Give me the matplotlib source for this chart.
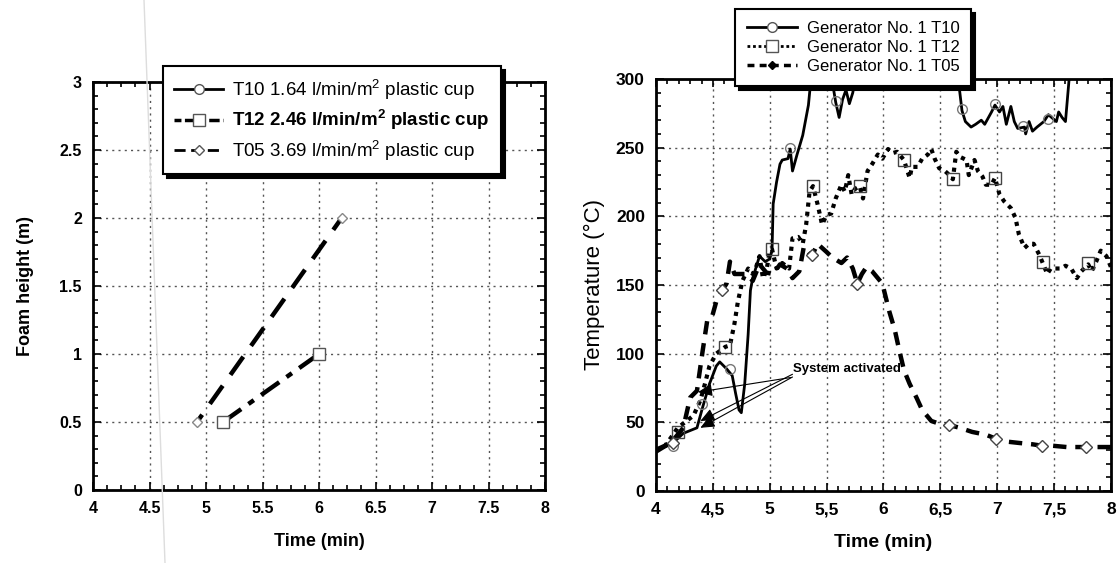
import matplotlib
matplotlib.use("Agg")
import matplotlib.pyplot as plt
from matplotlib.lines import Line2D
from matplotlib.ticker import MultipleLocator, FuncFormatter

plt.rcParams['font.family'] = ['Liberation Sans', 'DejaVu Sans']
plt.rcParams['font.weight'] = 'bold'

# ---- left chart: foam height ----
foam_t10_x = []
foam_t10_y = []
foam_t12_x = [5.15, 6.0]
foam_t12_y = [0.5, 1.0]
foam_t05_x = [4.92, 6.2]
foam_t05_y = [0.5, 2.0]
foam_labels = ["T10 1.64 l/min/m$^{\\mathregular{2}}$ plastic cup",
               "T12 2.46 l/min/m$^{\\mathregular{2}}$ plastic cup",
               "T05 3.69 l/min/m$^{\\mathregular{2}}$ plastic cup"]

# ---- right chart: temperature ----
t10_x = [4.0, 4.08, 4.15, 4.24, 4.30, 4.36, 4.41, 4.47, 4.53, 4.56, 4.62, 4.67, 4.70, 4.73,
         4.75, 4.78, 4.81, 4.83, 4.85, 4.91, 4.96, 5.0, 5.02, 5.03, 5.06, 5.09, 5.11, 5.16,
         5.18, 5.20, 5.24, 5.29, 5.34, 5.36, 5.45, 5.55, 5.58, 5.61, 5.64, 5.67, 5.70, 5.73,
         5.76, 6.2, 6.64, 6.67, 6.69, 6.72, 6.77, 6.81, 6.86, 6.89, 6.95, 6.98, 7.02, 7.05,
         7.08, 7.12, 7.15, 7.18, 7.24, 7.25, 7.28, 7.31, 7.35, 7.41, 7.45, 7.52, 7.54, 7.57,
         7.60, 7.63, 7.65]
t10_y = [28, 32, 35, 42, 44, 46, 61, 78, 91, 94, 89, 84, 71, 59,
         57, 78, 114, 146, 155, 171, 167, 169, 175, 209, 225, 238, 241, 242,
         249, 233, 245, 259, 281, 298, 320, 298, 283, 272, 285, 292, 282, 290,
         305, 330, 305, 291, 277, 269, 265, 267, 270, 267, 276, 281, 276, 280,
         267, 280, 269, 264, 265, 260, 269, 262, 265, 269, 274, 269, 276, 272,
         269, 298, 320]
t10_mx = [4.15, 4.40, 4.65, 5.18, 5.58, 6.69, 6.98, 7.23, 7.45]
t10_my = [33, 63, 89, 250, 284, 278, 282, 266, 271]

t12_x = [4.0, 4.08, 4.15, 4.19, 4.27, 4.33, 4.39, 4.43, 4.47, 4.53, 4.61, 4.65, 4.69, 4.72,
         4.76, 4.81, 4.85, 4.88, 4.91, 4.94, 4.97, 5.0, 5.02, 5.06, 5.11, 5.17, 5.20, 5.25,
         5.29, 5.32, 5.35, 5.38, 5.42, 5.46, 5.50, 5.54, 5.58, 5.63, 5.66, 5.69, 5.72, 5.75,
         5.79, 5.82, 5.86, 5.90, 5.95, 5.99, 6.04, 6.08, 6.12, 6.18, 6.21, 6.23, 6.25, 6.30,
         6.34, 6.39, 6.42, 6.45, 6.49, 6.54, 6.58, 6.61, 6.64, 6.68, 6.73, 6.75, 6.80, 6.83,
         6.87, 6.90, 6.95, 6.98, 7.02, 7.06, 7.12, 7.16, 7.19, 7.24, 7.28, 7.32, 7.37, 7.40,
         7.44, 7.47, 7.52, 7.56, 7.60, 7.65, 7.70, 7.74, 7.80, 7.83, 7.87, 7.91, 7.96, 8.0]
t12_y = [29, 33, 41, 46, 51, 55, 66, 78, 91, 100, 105, 106, 122, 138,
         153, 162, 158, 163, 171, 155, 160, 175, 176, 162, 166, 162, 184, 185,
         180, 194, 218, 222, 209, 194, 201, 202, 213, 223, 218, 230, 216, 220,
         222, 213, 233, 238, 245, 242, 249, 246, 247, 241, 233, 228, 236, 236,
         242, 245, 249, 242, 235, 233, 230, 227, 247, 243, 241, 230, 241, 233,
         229, 223, 223, 228, 216, 211, 206, 199, 187, 177, 180, 180, 172, 166,
         158, 162, 162, 162, 164, 162, 155, 160, 165, 160, 167, 175, 171, 163]
t12_mx = [4.19, 4.61, 5.02, 5.38, 5.79, 6.18, 6.61, 6.98, 7.40, 7.80]
t12_my = [43, 105, 176, 222, 222, 241, 227, 228, 167, 166]

t05_x = [4.0, 4.08, 4.15, 4.24, 4.30, 4.36, 4.41, 4.45, 4.49, 4.53, 4.58, 4.62, 4.65, 4.69,
         4.74, 4.80, 4.85, 4.91, 4.97, 5.03, 5.09, 5.15, 5.20, 5.26, 5.30, 5.37, 5.42, 5.50,
         5.55, 5.63, 5.68, 5.73, 5.77, 5.81, 5.85, 5.90, 5.99, 6.05, 6.10, 6.14, 6.18, 6.23,
         6.29, 6.34, 6.42, 6.49, 6.58, 6.67, 6.78, 6.90, 6.99, 7.08, 7.19, 7.31, 7.39, 7.48,
         7.61, 7.69, 7.78, 7.89, 8.0]
t05_y = [30, 33, 37, 46, 68, 73, 102, 124, 126, 138, 146, 151, 167, 158,
         158, 158, 153, 165, 159, 158, 165, 162, 155, 160, 178, 171, 180, 174,
         170, 166, 170, 162, 151, 158, 163, 160, 151, 131, 117, 102, 88, 78,
         68, 59, 51, 49, 48, 46, 43, 41, 38, 36, 35, 34, 33, 33,
         32, 32, 32, 32, 32]
t05_mx = [4.15, 4.58, 5.37, 5.77, 6.58, 6.99, 7.39, 7.78]
t05_my = [35, 146, 172, 151, 48, 38, 33, 32]

temp_labels = ["Generator No. 1 T10", "Generator No. 1 T12", "Generator No. 1 T05"]

# arrow targets for "System activated"
arrow_x = [4.37, 4.39, 4.39]
arrow_y = [72, 51, 46]
arrow_from_y = [89, 85, 83]

fig = plt.figure(figsize=(11.17, 5.63), dpi=100)
ax1 = fig.add_axes([0.0833, 0.1297, 0.4047, 0.7247])
ax2 = fig.add_axes([0.5873, 0.1279, 0.4073, 0.7318])


def style_axes(ax, size):
    for s in ax.spines.values():
        s.set_linewidth(2)
    ax.tick_params(which='both', direction='in', top=True, right=True, width=1.2)
    ax.tick_params(which='major', length=6, labelsize=size, pad=8)
    ax.tick_params(which='minor', length=3.5)
    ax.grid(True, which='major', linestyle=(0, (1.5, 3)), color='#555555', linewidth=1)
    ax.set_axisbelow(True)


# left chart
ax1.plot(foam_t10_x, foam_t10_y, '-', color='black', lw=2, label=foam_labels[0])
ax1.plot(foam_t12_x, foam_t12_y, color='black', lw=3.2, linestyle=(0, (5, 2, 1.5, 2)),
         label=foam_labels[1])
ax1.plot(foam_t05_x, foam_t05_y, color='black', lw=3.2, linestyle=(3, (5, 3)),
         label=foam_labels[2])
ax1.plot(foam_t12_x, foam_t12_y, 's', mfc='white', mec='#555555', ms=8, zorder=5)
ax1.plot(foam_t05_x, foam_t05_y, 'D', mfc='white', mec='#888888', ms=5, zorder=5)
ax1.set_xlim(4, 8)
ax1.set_ylim(0, 3)
ax1.xaxis.set_major_locator(MultipleLocator(0.5))
ax1.xaxis.set_minor_locator(MultipleLocator(0.125))
ax1.yaxis.set_major_locator(MultipleLocator(0.5))
ax1.yaxis.set_minor_locator(MultipleLocator(0.1))
ax1.yaxis.set_major_formatter(FuncFormatter(lambda v, p: f"{v:g}"))
ax1.xaxis.set_major_formatter(FuncFormatter(lambda v, p: f"{v:g}"))
style_axes(ax1, 11.5)
ax1.set_xlabel("Time (min)", fontsize=13, fontweight='bold', labelpad=12)
ax1.set_ylabel("Foam height (m)", fontsize=13, fontweight='bold', labelpad=18)

h = [Line2D([], [], color='black', lw=2, marker='o', mfc='white', mec='#555555', ms=7),
     Line2D([], [], color='black', lw=2.5, linestyle=(0, (2, 1, 3, 1)), marker='s',
            mfc='white', mec='#555555', ms=8),
     Line2D([], [], color='black', lw=2, linestyle=(0, (4, 2)), marker='D', mfc='white',
            mec='#555555', ms=5)]
leg1 = fig.legend(h, foam_labels, loc='upper left', bbox_to_anchor=(0.146, 0.883),
                  borderaxespad=0, prop={'size': 13.5, 'weight': 'normal'},
                  handlelength=2.6, borderpad=0.6, labelspacing=0.3, handletextpad=0.5,
                  fancybox=False, framealpha=1, edgecolor='black',
                  shadow={'color': 'black', 'alpha': 1, 'ox': 3, 'oy': -3})
leg1.get_frame().set_linewidth(1.5)
leg1.get_texts()[1].set_fontweight('bold')

# right chart
ax2.plot(t10_x, t10_y, '-', color='black', lw=2, label=temp_labels[0])
ax2.plot(t12_x, t12_y, color='black', lw=3, linestyle=(0, (1, 1.2)), label=temp_labels[1])
ax2.plot(t05_x, t05_y, color='black', lw=3.2, linestyle=(0, (3, 2)), label=temp_labels[2])
ax2.plot(t10_mx, t10_my, 'o', mfc='none', mec='#777777', ms=7, zorder=5)
ax2.plot(t12_mx, t12_my, 's', mfc='none', mec='#444444', ms=8, zorder=5)
ax2.plot(t05_mx, t05_my, 'D', mfc='white', mec='#444444', ms=6, zorder=5)
ax2.set_xlim(4, 8)
ax2.set_ylim(0, 300)
ax2.xaxis.set_major_locator(MultipleLocator(0.5))
ax2.xaxis.set_minor_locator(MultipleLocator(0.1))
ax2.yaxis.set_major_locator(MultipleLocator(50))
ax2.yaxis.set_minor_locator(MultipleLocator(10))
ax2.xaxis.set_major_formatter(FuncFormatter(lambda v, p: f"{v:g}".replace('.', ',')))
style_axes(ax2, 12.5)
ax2.set_xlabel("Time (min)", fontsize=14, fontweight='bold', labelpad=12)
ax2.set_ylabel("Temperature (°C)", fontsize=16, fontweight='normal', labelpad=8)

for i in range(len(arrow_x)):
    ax2.annotate("System activated" if i == 0 else "",
                 xy=(arrow_x[i], arrow_y[i]), xytext=(5.2, arrow_from_y[i]),
                 fontsize=9.5, fontweight='bold', va='center', ha='left',
                 arrowprops=dict(arrowstyle='-|>,head_length=0.9,head_width=0.4',
                                 color='black', lw=0.8, shrinkA=0, shrinkB=0))

h2 = [Line2D([], [], color='black', lw=2, marker='o', mfc='white', mec='#555555', ms=7),
      Line2D([], [], color='black', lw=2, linestyle=(0, (1, 1)), marker='s', mfc='white',
             mec='#555555', ms=8),
      Line2D([], [], color='black', lw=2.5, linestyle=(0, (2, 1.5)), marker='D',
             mfc='black', mec='black', ms=4)]
leg2 = fig.legend(h2, temp_labels, loc='upper left', bbox_to_anchor=(0.658, 0.984),
                  borderaxespad=0, prop={'size': 12, 'weight': 'normal'},
                  handlelength=3.0, borderpad=0.7, labelspacing=0.25, handletextpad=0.6,
                  fancybox=False, framealpha=1, edgecolor='black',
                  shadow={'color': 'black', 'alpha': 1, 'ox': 3, 'oy': -3})
leg2.get_frame().set_linewidth(1.5)

# faint scan line
fig.add_artist(Line2D([144 / 1117, 165 / 1117], [1, 0], color='#dddddd', lw=1))

fig.savefig("out.png", dpi=100)
